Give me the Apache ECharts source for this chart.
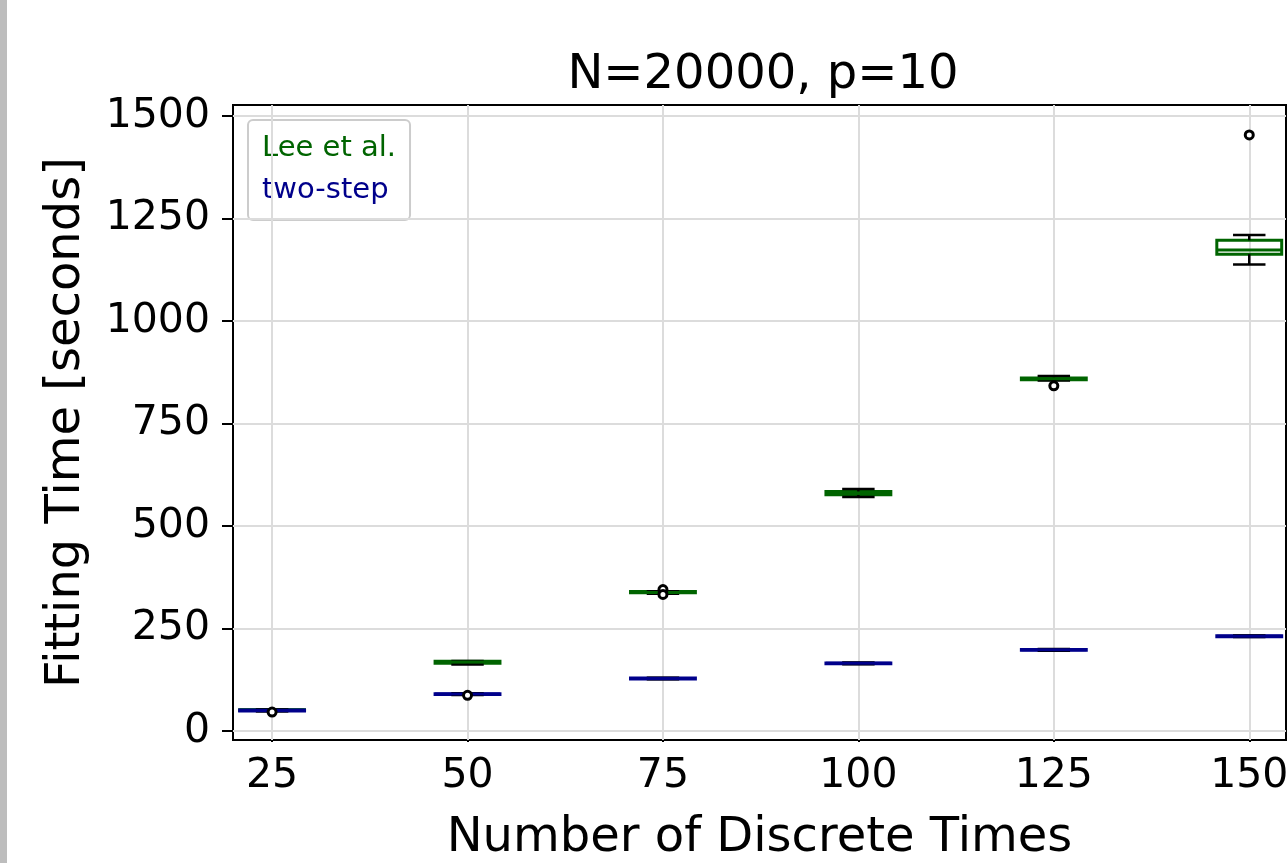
<!DOCTYPE html>
<html>
<head>
<meta charset="utf-8">
<script src="https://cdn.jsdelivr.net/npm/echarts@6/dist/echarts.min.js"></script>
<style>
html,body{margin:0;padding:0;background:#fff;}
#chart{width:1288px;height:863px;}
</style>
</head>
<body>
<div id="chart"></div>
<script>
// ---- data ----
const positions = [25, 50, 75, 100, 125, 150];
const yTicks = [0, 250, 500, 750, 1000, 1250, 1500];
// [whisker low, Q1, median, Q3, whisker high]
const leeStats = [
  [49, 50, 51, 52, 53],
  [162, 165, 168, 170, 171],
  [335, 337, 338, 340, 341],
  [571, 576, 580, 584, 590],
  [855, 857, 859, 861, 866],
  [1138, 1163, 1173, 1197, 1210]
];
const twoStepStats = [
  [48, 49, 50, 51, 52],
  [88, 89, 90, 91, 92],
  [126, 127, 128, 129, 130],
  [163, 164, 165, 166, 167],
  [196, 197, 198, 199, 200],
  [229, 230, 231, 232, 233]
];
const leeOutliers = [[75, 345], [75, 333], [125, 842], [150, 1454]];
const twoStepOutliers = [[25, 46], [50, 87]];
const seriesNames = ['Lee et al.', 'two-step'];

// ---- styling ----
const GREEN = '#006400';
const BLUE = '#00008b';
const FONT = 'DejaVu Sans';
const BOX_HALF = 4.15;

function boxRenderer(color) {
  return function (params, api) {
    const x = api.value(0);
    const lo = api.coord([x, api.value(1)]);
    const q1 = api.coord([x, api.value(2)]);
    const md = api.coord([x, api.value(3)]);
    const q3 = api.coord([x, api.value(4)]);
    const hi = api.coord([x, api.value(5)]);
    const hw = api.size([BOX_HALF, 0])[0];
    const cw = hw / 2;
    const cx = lo[0];
    const blk = { stroke: '#000', lineWidth: 2.5, fill: null };
    return {
      type: 'group',
      children: [
        { type: 'rect', shape: { x: cx - hw, y: q3[1], width: 2 * hw, height: q1[1] - q3[1] },
          style: { fill: null, stroke: color, lineWidth: 3 } },
        { type: 'line', shape: { x1: cx, y1: lo[1], x2: cx, y2: q1[1] }, style: blk },
        { type: 'line', shape: { x1: cx, y1: q3[1], x2: cx, y2: hi[1] }, style: blk },
        { type: 'line', shape: { x1: cx - cw, y1: lo[1], x2: cx + cw, y2: lo[1] }, style: blk },
        { type: 'line', shape: { x1: cx - cw, y1: hi[1], x2: cx + cw, y2: hi[1] }, style: blk },
        { type: 'line', shape: { x1: cx - hw, y1: md[1], x2: cx + hw, y2: md[1] },
          style: { stroke: color, lineWidth: 3 } }
      ]
    };
  };
}

const leeData = positions.map((p, i) => [p].concat(leeStats[i]));
const twoData = positions.map((p, i) => [p].concat(twoStepStats[i]));

const chart = echarts.init(document.getElementById('chart'), null, { renderer: 'canvas' });
chart.setOption({
  animation: false,
  backgroundColor: '#fff',
  textStyle: { fontFamily: FONT },
  graphic: [
    { type: 'rect', left: 0, top: 0, shape: { width: 7, height: 863 }, style: { fill: '#bdbdbd' }, z: 100 }
  ],
  title: {
    text: 'N=20000, p=10',
    left: 758, top: 47, textAlign: 'center',
    textStyle: { fontFamily: FONT, fontSize: 48, fontWeight: 'normal', color: '#000' }
  },
  legend: {
    orient: 'vertical',
    left: 248, top: 120,
    data: [
      { name: seriesNames[0], textStyle: { color: GREEN } },
      { name: seriesNames[1], textStyle: { color: BLUE } }
    ],
    icon: 'none',
    itemWidth: 0, itemHeight: 29, itemGap: 13,
    padding: [14, 14, 15, 9],
    selectedMode: false,
    backgroundColor: 'rgba(255,255,255,0.8)',
    borderColor: '#cccccc', borderWidth: 2, borderRadius: 5,
    textStyle: { fontFamily: FONT, fontSize: 29 }
  },
  grid: {
    left: 233, right: 2, top: 105, bottom: 123,
    outerBoundsMode: 'none', containLabel: false,
    show: true, borderColor: '#000', borderWidth: 2, backgroundColor: 'transparent'
  },
  xAxis: {
    type: 'value', min: 20, max: 154.7,
    name: 'Number of Discrete Times', nameLocation: 'middle', nameGap: 75,
    nameTextStyle: { fontFamily: FONT, fontSize: 48, color: '#000' },
    axisLine: { show: true, lineStyle: { color: '#000', width: 2 } },
    axisTick: { show: true, length: 11, lineStyle: { color: '#000', width: 2 }, customValues: positions },
    axisLabel: { fontFamily: FONT, fontSize: 41, color: '#000', margin: 16, customValues: positions,
      formatter: v => String(v) },
    splitLine: { show: false }
  },
  yAxis: {
    type: 'value', min: -22, max: 1527,
    name: 'Fitting Time [seconds]', nameLocation: 'middle', nameGap: 142, nameRotate: 90,
    nameTextStyle: { fontFamily: FONT, fontSize: 48, color: '#000' },
    axisLine: { show: true, lineStyle: { color: '#000', width: 2 } },
    axisTick: { show: true, length: 11, lineStyle: { color: '#000', width: 2 }, customValues: yTicks },
    axisLabel: { fontFamily: FONT, fontSize: 41, color: '#000', margin: 23, customValues: yTicks,
      formatter: v => String(v) },
    splitLine: { show: false }
  },
  series: [
    {
      type: 'line', data: [], silent: true, z: 1,
      markLine: {
        silent: true, symbol: 'none', label: { show: false },
        lineStyle: { color: '#dcdcdc', width: 2, type: 'solid' },
        data: positions.map(v => ({ xAxis: v })).concat(yTicks.map(v => ({ yAxis: v })))
      }
    },
    {
      name: seriesNames[0], type: 'custom', renderItem: boxRenderer(GREEN),
      data: leeData, encode: { x: 0, y: [1, 2, 3, 4, 5] }, z: 5, itemStyle: { color: GREEN }
    },
    {
      name: seriesNames[1], type: 'custom', renderItem: boxRenderer(BLUE),
      data: twoData, encode: { x: 0, y: [1, 2, 3, 4, 5] }, z: 6, itemStyle: { color: BLUE }
    },
    {
      type: 'scatter', data: leeOutliers, symbol: 'circle', symbolSize: 8, z: 7,
      itemStyle: { color: '#fff', borderColor: '#000', borderWidth: 3, opacity: 1 }
    },
    {
      type: 'scatter', data: twoStepOutliers, symbol: 'circle', symbolSize: 8, z: 7,
      itemStyle: { color: '#fff', borderColor: '#000', borderWidth: 3, opacity: 1 }
    }
  ]
});
</script>
</body>
</html>
